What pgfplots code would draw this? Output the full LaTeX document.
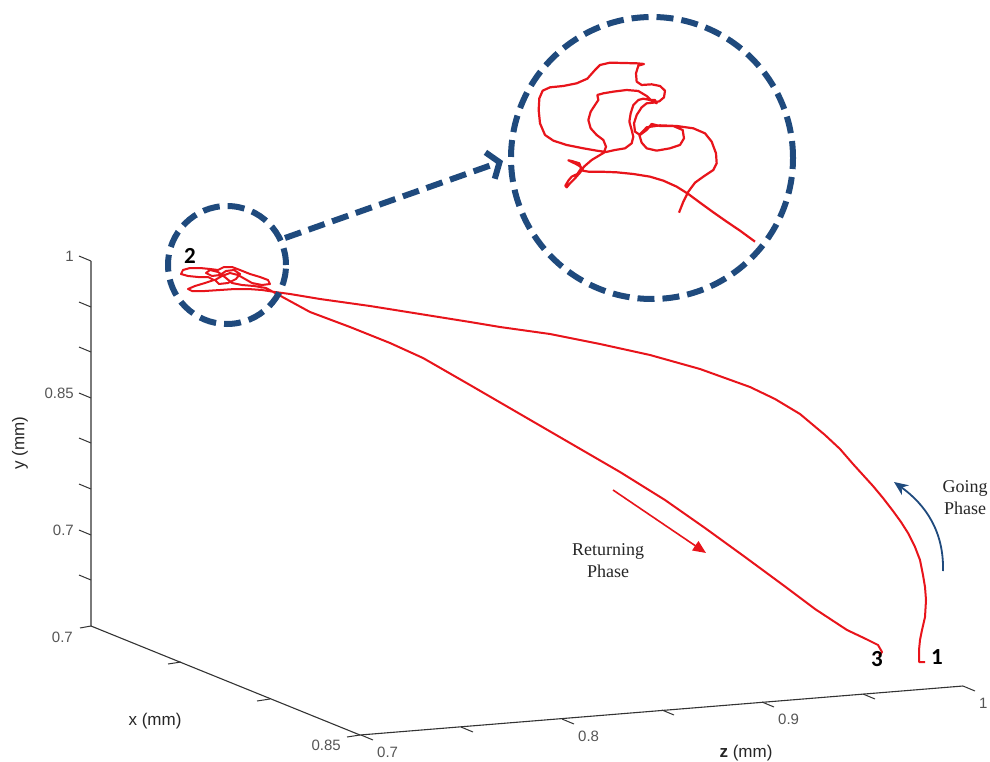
\documentclass[border=0pt]{standalone}
\usepackage{fontspec}
\setmainfont{Liberation Serif}
\newfontfamily\arial{Liberation Sans}
\newfontfamily\calibri{Carlito}
\usepackage{pgfplots}
\pgfplotsset{compat=1.18}
\usetikzlibrary{arrows.meta}
\definecolor{navy}{HTML}{1F4A7D}
\definecolor{tickgray}{HTML}{555555}
\definecolor{axgray}{HTML}{333333}
\definecolor{trajred}{HTML}{E8141B}

\begin{document}
\begin{tikzpicture}
\path[use as bounding box] (0pt,0pt) rectangle (990pt,762pt);
% ---------------- main view (coordinates of the projected picture) ----------------
\begin{axis}[at={(0pt,0pt)}, anchor=south west, scale only axis,
  width=990pt, height=762pt, xmin=0, xmax=990, ymin=0, ymax=762,
  y dir=reverse, hide axis, clip=false]
% box axes
\addplot[axgray, line width=1.1pt] coordinates {(91,261) (91,626) (360,735) (963,686)};
% y ticks
\draw[axgray, line width=1pt] (axis cs:91,261) -- (axis cs:79,256);
\draw[axgray, line width=1pt] (axis cs:91,307) -- (axis cs:79,302);
\draw[axgray, line width=1pt] (axis cs:91,352) -- (axis cs:79,347);
\draw[axgray, line width=1pt] (axis cs:91,398) -- (axis cs:79,393);
\draw[axgray, line width=1pt] (axis cs:91,443) -- (axis cs:79,438);
\draw[axgray, line width=1pt] (axis cs:91,489) -- (axis cs:79,484);
\draw[axgray, line width=1pt] (axis cs:91,535) -- (axis cs:79,530);
\draw[axgray, line width=1pt] (axis cs:91,580) -- (axis cs:79,575);
\draw[axgray, line width=1pt] (axis cs:91,626) -- (axis cs:80,628);
% x ticks
\draw[axgray, line width=1pt] (axis cs:181,662) -- (axis cs:168,664);
\draw[axgray, line width=1pt] (axis cs:270,699) -- (axis cs:257,701);
\draw[axgray, line width=1pt] (axis cs:360,735) -- (axis cs:347,737);
% z ticks
\draw[axgray, line width=1pt] (axis cs:361,735) -- (axis cs:373,740);
\draw[axgray, line width=1pt] (axis cs:461,727) -- (axis cs:473,732);
\draw[axgray, line width=1pt] (axis cs:562,719) -- (axis cs:574,724);
\draw[axgray, line width=1pt] (axis cs:662,710) -- (axis cs:674,715);
\draw[axgray, line width=1pt] (axis cs:762,702) -- (axis cs:774,707);
\draw[axgray, line width=1pt] (axis cs:863,694) -- (axis cs:875,699);
\draw[axgray, line width=1pt] (axis cs:963,686) -- (axis cs:975,691);
% tick labels
\begin{scope}[every node/.style={font=\arial\fontsize{15}{18}\selectfont, text=tickgray, inner sep=0pt}]
\node[anchor=east] at (axis cs:74,256) {1};
\node[anchor=east] at (axis cs:74,393) {0.85};
\node[anchor=east] at (axis cs:74,530) {0.7};
\node[anchor=east] at (axis cs:73,637) {0.7};
\node[anchor=east] at (axis cs:341,745) {0.85};
\node[anchor=west] at (axis cs:377,752) {0.7};
\node[anchor=west] at (axis cs:578,736) {0.8};
\node[anchor=west] at (axis cs:778,719) {0.9};
\node[anchor=west] at (axis cs:979,703) {1};
\end{scope}
% axis labels
\begin{scope}[every node/.style={font=\arial\fontsize{17}{20}\selectfont, text=black!85, inner sep=0pt}]
\node[rotate=90] at (axis cs:20,443) {y (mm)};
\node at (axis cs:155,721) {x (mm)};
\node at (axis cs:746,753) {\textbf{z} (mm)};
\end{scope}
% trajectory
\addplot[trajred, line width=2pt, line join=round] coordinates {
(925,662) (919,662) (919,650) (920,640) (922,630) (925,617) (926,600) (925,587)
(923,575) (920,560) (915,547) (908,533) (901,522) (893,511) (883,498) (873,486)
(863,475) (853,464) (840,449) (825,435) (800,414) (775,399) (750,387) (700,369)
(650,355) (600,344) (550,334) (500,327) (470,322) (420,314) (370,306) (320,299)
(290,294) (275,292) (262,290) (248,289) (235,289) (220,290) (205,291) (192,291)
(188,289) (195,286) (205,283) (214,280) (208,277) (198,277) (188,276) (181,274)
(183,270) (190,268) (200,268) (210,269) (218,270) (224,267) (232,267) (240,270)
(250,274) (260,277) (268,280) (270,284) (262,285) (252,283) (245,279) (238,275)
(230,273) (222,276) (215,280) (219,284) (228,283) (236,279) (240,274) (234,270)
(226,271) (220,275) (212,276) (206,273) (210,270) (218,272) (226,278) (232,283)
(242,285) (254,286) (266,288) (277,294)
(310,312) (350,327) (390,343) (423,358) (470,385) (520,414) (570,443) (620,472)
(665,500) (705,528) (745,557) (783,585) (815,609) (847,630) (866,639) (878,645)
(882,652) (879,656)
};
% phase arrows
\draw[trajred, line width=1.6pt, -{Triangle[length=13pt,width=11pt]}] (axis cs:613,490) -- (axis cs:706,553);
\draw[navy, line width=1.8pt, -{Stealth[length=14pt,width=12pt]}] (axis cs:943,571) .. controls (axis cs:944,532) and (axis cs:926,505) .. (axis cs:894,482);
% phase texts
\node[align=center, font=\fontsize{18}{22}\selectfont, text=black!85] at (axis cs:608,561) {Returning\\Phase};
\node[align=center, font=\fontsize{18}{22}\selectfont, text=black!85] at (axis cs:965,498) {Going\\Phase};
% point labels
\begin{scope}[every node/.style={font=\calibri\bfseries\fontsize{23}{26}\selectfont, inner sep=0pt}]
\node at (axis cs:190,256) {2};
\node at (axis cs:877,659) {3};
\node at (axis cs:937,657) {1};
\end{scope}
% zoom circles and arrow
\draw[navy, line width=6pt, dash pattern=on 17pt off 8pt] (axis cs:227,265) circle[radius=59pt];
\draw[navy, line width=6pt, dash pattern=on 17pt off 8pt] (axis cs:652,158) circle[radius=141pt];
\draw[navy, line width=6pt, dash pattern=on 17pt off 8pt, -{Straight Barb[length=10pt,width=28pt]}] (axis cs:285,238) -- (axis cs:503,161);
\end{axis}
% ---------------- magnified inset ----------------
\begin{axis}[at={(500pt,742pt)}, anchor=north west, scale only axis,
  width=300pt, height=290pt, xmin=0, xmax=900, ymin=0, ymax=870,
  y dir=reverse, hide axis, clip=false]
\addplot[trajred, line width=2.2pt, line join=round] coordinates {
(765,665) (720,632) (680,605) (640,577) (600,548) (565,522) (530,500) (490,482)
(450,470) (400,462) (350,457) (300,455) (265,455) (248,452) (242,440) (228,432)
(205,421) (215,423) (238,430) (243,446) (232,462) (215,470) (205,482) (196,497)
(200,502) (210,490) (225,475) (240,458) (252,440) (275,420) (300,405) (312,398)
(318,380) (310,360) (290,345) (272,325) (265,300) (272,275) (285,255) (295,240)
(292,225) (310,220) (340,215) (380,210) (415,213) (440,228) (455,242) (470,250)
(465,240) (450,240) (430,236) (415,240) (400,255) (392,280) (388,305) (395,330)
(400,350) (395,370) (375,385) (345,390) (318,396) (290,392) (250,385) (200,375)
(160,362) (135,345) (120,310) (116,270) (118,235) (128,212) (150,202) (190,198)
(230,190) (262,176) (285,150) (300,135) (330,128) (370,129) (410,130) (432,132)
(415,137) (408,160) (410,185) (425,195) (455,193) (480,198) (495,212) (492,232)
(478,244) (460,248) (440,250) (425,262) (410,285) (402,310) (405,335) (420,345)
(440,330) (455,312) (480,318) (520,318) (548,330) (552,355) (540,375) (510,385)
(470,392) (440,385) (425,368) (418,345) (440,322) (480,316) (530,318) (580,325)
(615,340) (635,365) (648,400) (650,430) (640,450) (610,470) (585,488) (565,515)
(550,545) (537,578)
};
\end{axis}
\end{tikzpicture}
\end{document}
